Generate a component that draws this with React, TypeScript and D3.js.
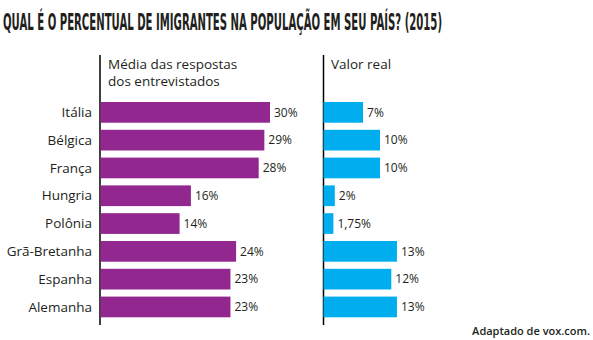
import React, { useLayoutEffect, useRef, useState } from "react";
import * as d3 from "d3";

const countries = ["Itália", "Bélgica", "França", "Hungria", "Polônia", "Grã-Bretanha", "Espanha", "Alemanha"];
const perceived = [30, 29, 28, 16, 14, 24, 23, 23];
const perceivedLabels = ["30%", "29%", "28%", "16%", "14%", "24%", "23%", "23%"];
const actual = [7, 10, 10, 2, 1.75, 13, 12, 13];
const actualLabels = ["7%", "10%", "10%", "2%", "1,75%", "13%", "12%", "13%"];

const title = "QUAL É O PERCENTUAL DE IMIGRANTES NA POPULAÇÃO EM SEU PAÍS? (2015)";
const leftHeader = ["Média das respostas", "dos entrevistados"];
const rightHeader = ["Valor real"];
const source = "Adaptado de vox.com.";

const W = 593;
const H = 340;
const FONT = "'Open Sans', sans-serif";
const TEXT = "#231f20";
const TITLE_WIDTH = 439;

export default function App() {
  const titleRef = useRef<SVGTextElement>(null);
  const [sx, setSx] = useState(0.48);

  useLayoutEffect(() => {
    const el = titleRef.current;
    if (el) {
      const w = el.getComputedTextLength();
      if (w > 0) setSx(TITLE_WIDTH / w);
    }
  }, []);

  const y = d3.scaleBand<string>().domain(countries).range([102, 317.3]).paddingInner(0.255).paddingOuter(0);
  const xL = d3.scaleLinear().domain([0, 30]).range([100.5, 270]);
  const xR = d3.scaleLinear().domain([0, 30]).range([323.5, 323.5 + 169.5]);

  return (
    <svg width={W} height={H} style={{ position: "absolute", left: 0, top: 0, background: "#fff" }}>
      <g transform={`translate(3,29.5) scale(${sx},1)`}>
        <text ref={titleRef} x={0} y={0} fontFamily="'DejaVu Sans Condensed', 'Liberation Sans Narrow', sans-serif" fontWeight="bold" fontSize={22.5} fill={TEXT}>
          {title}
        </text>
      </g>

      <line x1={100} x2={100} y1={55} y2={325} stroke="#000" strokeWidth={1.5} />
      <line x1={323.5} x2={323.5} y1={55} y2={325} stroke="#000" strokeWidth={1.5} />

      {leftHeader.map((t, i) => (
        <text key={t} x={108} y={69 + i * 17} fontFamily={FONT} fontSize={13.5} fill={TEXT}>{t}</text>
      ))}
      {rightHeader.map((t, i) => (
        <text key={t} x={331} y={69 + i * 17} fontFamily={FONT} fontSize={13.5} fill={TEXT}>{t}</text>
      ))}

      {countries.map((c, i) => {
        const yy = y(c)!;
        const bh = y.bandwidth();
        return (
          <g key={c}>
            <text x={92} y={yy + bh / 2} dy="0.35em" textAnchor="end" fontFamily={FONT} fontSize={13.5} fill={TEXT}>{c}</text>
            <rect x={xL(0)} y={yy} width={xL(perceived[i]) - xL(0)} height={bh} fill="#92278f" />
            <text x={xL(perceived[i]) + 4} y={yy + bh / 2} dy="0.35em" fontFamily={FONT} fontSize={12} fill={TEXT}>{perceivedLabels[i]}</text>
            <rect x={xR(0)} y={yy} width={xR(actual[i]) - xR(0)} height={bh} fill="#00aeef" />
            <text x={xR(actual[i]) + 4} y={yy + bh / 2} dy="0.35em" fontFamily={FONT} fontSize={12} fill={TEXT}>{actualLabels[i]}</text>
          </g>
        );
      })}

      <text x={590} y={335} textAnchor="end" fontFamily={FONT} fontWeight={600} fontSize={11} fill={TEXT}>{source}</text>
    </svg>
  );
}
